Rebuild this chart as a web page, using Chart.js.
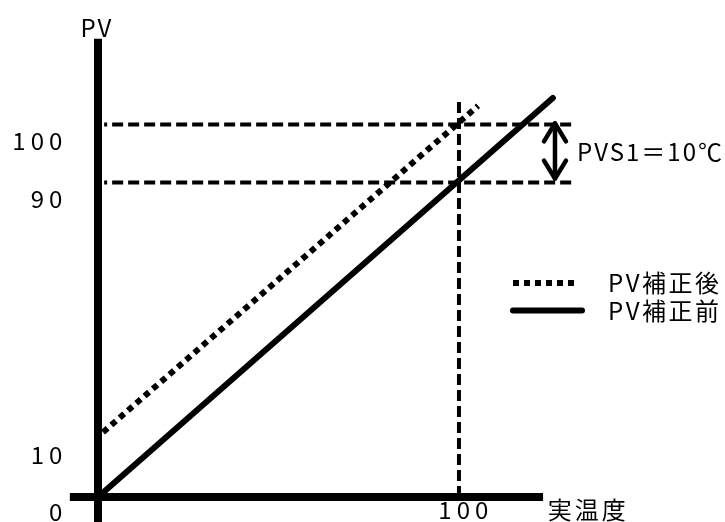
<!DOCTYPE html>
<html>
<head>
<meta charset="utf-8">
<script src="https://cdn.jsdelivr.net/npm/chart.js@4.4.1/dist/chart.umd.min.js"></script>
<style>
  html,body{margin:0;padding:0;background:#fff;}
  canvas{display:block;}
</style>
</head>
<body>
<canvas id="pvChart" width="725" height="522"></canvas>
<script>
// PV correction (PVS1) diagram, schematic axes in real-temp / PV units

// ---------- data ----------
const viewX = [-27.15, 173.7];          // visible real-temp range
const viewY = [-6.71, 133.4];           // visible PV range
const xAxisLine = [-7.8, 123.3];        // drawn x axis extent (real temp)
const yAxisLine = [-6.7, 123.0];        // drawn y axis extent (PV)

const beforeX = [0, 126];               // PV補正前 (solid)
const beforeY = [0, 107.1];
const afterX  = [1.4, 105.3];           // PV補正後 (dotted)
const afterY  = [17.4, 105.0];

const guideLevels = [100, 84.4];        // dashed PV levels (100 / 90 marks)
const guideSpan   = [1.7, 131.6];
const guideTemp   = 100;                // dashed real-temp 100 mark
const guideTempTop = 106;
const arrowAt     = 126.6;              // PVS1 arrow position

const yTickLabels = ['100', '90', '10', '0'];
const yTickAt     = [95.6, 80.1, 11.3, -4.0];
const xTickLabels = ['100'];
const xTickAt     = [101.9];

const seriesNames = ['PV補正後', 'PV補正前'];
const FONT = '"Noto Sans CJK JP", "Noto Sans", sans-serif';

function pts(xs, ys){ return xs.map((x,i)=>({x:x, y:ys[i]})); }

const datasets = [
  { label:'yaxis', data: pts([0,0], yAxisLine), borderColor:'#000', borderWidth:8, borderCapStyle:'butt' },
  { label:'xaxis', data: pts(xAxisLine, [0,0]), borderColor:'#000', borderWidth:8, borderCapStyle:'butt' },
  { label:'g100', data: pts(guideSpan, [guideLevels[0],guideLevels[0]]), borderColor:'#000', borderWidth:4, borderDash:[11,5], borderDashOffset:-8 },
  { label:'g90',  data: pts(guideSpan, [guideLevels[1],guideLevels[1]]), borderColor:'#000', borderWidth:4, borderDash:[11,5], borderDashOffset:-8 },
  { label:'gT',   data: pts([guideTemp,guideTemp], [0,guideTempTop]), borderColor:'#000', borderWidth:4, borderDash:[11,5] },
  { label:seriesNames[0], data: pts(afterX, afterY), borderColor:'#000', borderWidth:6, borderDash:[6,5], borderCapStyle:'butt' },
  { label:seriesNames[1], data: pts(beforeX, beforeY), borderColor:'#000', borderWidth:6, borderCapStyle:'round' },
];

const labelsPlugin = {
  id:'labels',
  afterDatasetsDraw(chart){
    const ctx = chart.ctx, xs = chart.scales.x, ys = chart.scales.y;
    ctx.save();
    ctx.fillStyle = '#000';
    ctx.font = '24px ' + FONT;
    ctx.textBaseline = 'middle';

    // y tick labels (right aligned left of axis)
    ctx.textAlign = 'right';
    ctx.letterSpacing = '5px';
    yTickLabels.forEach((t,i)=>{
      ctx.fillText(t, xs.getPixelForValue(-8.5), ys.getPixelForValue(yTickAt[i]));
    });
    // x tick labels
    ctx.textAlign = 'center';
    xTickLabels.forEach((t,i)=>{
      ctx.fillText(t, xs.getPixelForValue(xTickAt[i]), ys.getPixelForValue(-3.5));
    });
    // axis titles
    ctx.letterSpacing = '2px';
    ctx.fillText('PV', xs.getPixelForValue(-0.3), ys.getPixelForValue(126.0));
    ctx.textAlign = 'left';
    ctx.letterSpacing = '3px';
    ctx.fillText('実温度', xs.getPixelForValue(124.6), ys.getPixelForValue(-3.5));

    // PVS1 double arrow
    const ax = xs.getPixelForValue(arrowAt);
    const yTop = ys.getPixelForValue(guideLevels[0]) - 1;
    const yBot = ys.getPixelForValue(guideLevels[1]) - 4;
    ctx.strokeStyle = '#000'; ctx.lineWidth = 4.5; ctx.lineCap = 'round'; ctx.lineJoin = 'round';
    ctx.beginPath(); ctx.moveTo(ax, yTop); ctx.lineTo(ax, yBot); ctx.stroke();
    ctx.beginPath(); ctx.moveTo(ax-11, yTop+18); ctx.lineTo(ax, yTop); ctx.lineTo(ax+11, yTop+18); ctx.stroke();
    ctx.beginPath(); ctx.moveTo(ax-11, yBot-18); ctx.lineTo(ax, yBot); ctx.lineTo(ax+11, yBot-18); ctx.stroke();
    ctx.letterSpacing = '2px';
    ctx.fillText('PVS1＝10℃', ax + 22, (yTop + yBot) / 2 + 1);

    // legend
    const lx = ax - 42, ly1 = 283, ly2 = 310.5;
    ctx.lineWidth = 6;
    ctx.lineCap = 'butt'; ctx.setLineDash([6,5]);
    ctx.beginPath(); ctx.moveTo(lx, ly1); ctx.lineTo(lx+66, ly1); ctx.stroke();
    ctx.setLineDash([]); ctx.lineCap = 'round';
    ctx.beginPath(); ctx.moveTo(lx, ly2); ctx.lineTo(lx+69, ly2); ctx.stroke();
    ctx.letterSpacing = '2.5px';
    ctx.fillText(seriesNames[0], lx + 95, ly1);
    ctx.fillText(seriesNames[1], lx + 95, ly2);
    ctx.restore();
  }
};

new Chart(document.getElementById('pvChart'), {
  type:'line',
  data:{ datasets: datasets },
  options:{
    responsive:false,
    animation:false,
    devicePixelRatio:1,
    layout:{ padding:0 },
    elements:{ point:{ radius:0 }, line:{ tension:0, fill:false } },
    plugins:{ legend:{ display:false }, tooltip:{ enabled:false } },
    scales:{
      x:{ type:'linear', min:viewX[0], max:viewX[1], display:false },
      y:{ type:'linear', min:viewY[0], max:viewY[1], display:false }
    }
  },
  plugins:[labelsPlugin]
});
</script>
</body>
</html>
